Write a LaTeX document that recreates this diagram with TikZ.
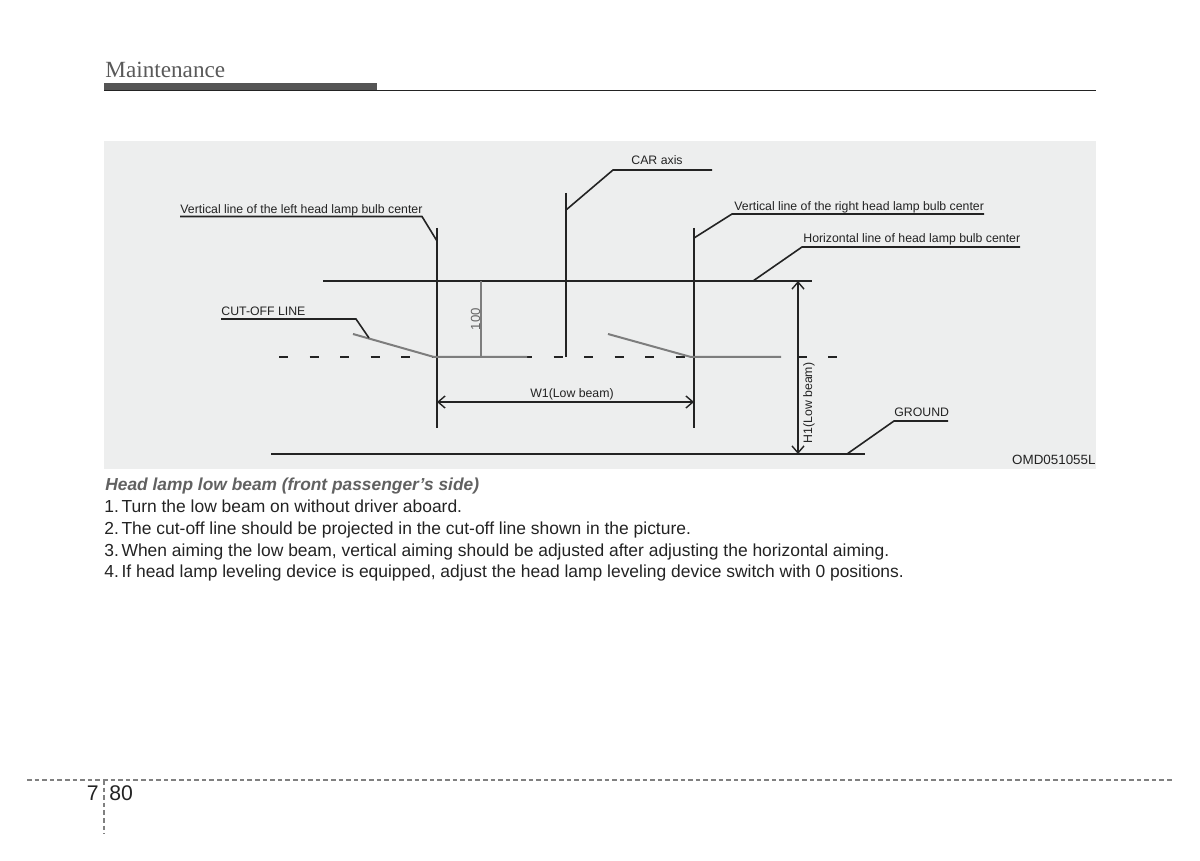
\documentclass[tikz,border=0pt]{standalone}
\usepackage{fontspec}
\setmainfont{Liberation Sans}
\newfontfamily\headfont{Liberation Serif}
\usepackage{tikz}
\usetikzlibrary{arrows.meta, positioning}
\definecolor{panelgray}{RGB}{237,238,238}
\definecolor{beamgray}{RGB}{125,125,125}
\definecolor{inkblack}{RGB}{35,35,35}
\definecolor{bargray}{RGB}{85,85,85}
\tikzset{
  axisline/.style={line width=0.75pt, inkblack},
  leaderline/.style={line width=0.8pt, inkblack},
  beamline/.style={line width=1pt, beamgray},
  dimline/.style={line width=0.7pt, inkblack, {Straight Barb[length=3.5pt,width=6pt]}-{Straight Barb[length=3.5pt,width=6pt]}},
  calloutlabel/.style={anchor=base west, inner sep=0pt, font=\fontsize{6.15}{7}\selectfont, text=inkblack},
  bodytext/.style={anchor=base west, inner sep=0pt, font=\fontsize{8.72}{10}\selectfont, text=inkblack},
  footline/.style={line width=0.55pt, black!50, dash pattern=on 2.3pt off 1.5pt},
}
\newcommand{\stepgap}{\hspace{0.15em}}

\begin{document}
\frenchspacing
\begin{tikzpicture}[x=0.5pt, y=-0.5pt]
\useasboundingbox (0,0) rectangle (1200,861);

% Page header
\node[anchor=base west, inner sep=0pt, font=\headfont\fontsize{11.6}{13}\selectfont, text=black!65] (header) at (105,78) {Maintenance};
\fill[bargray] (104,83) rectangle (377,91);
\coordinate (ruleL) at (104,91);
\coordinate (ruleR) at (1096,91);
\draw[line width=0.5pt, inkblack] (ruleL) -- (ruleR);

% Panel
\fill[panelgray] (104,141) rectangle (1096,469);

% Main lines
\coordinate (leftTop) at (437,228);
\coordinate (leftBot) at (437,428);
\coordinate (carTop) at (566,193);
\coordinate (carBot) at (566,357);
\coordinate (rightTop) at (694,228);
\coordinate (rightBot) at (694,428);
\coordinate (horizL) at (323,281);
\coordinate (horizR) at (812,281);
\coordinate (groundL) at (271,454);
\coordinate (groundR) at (865,454);
\coordinate (dashL) at (279,357);
\coordinate (dashR) at (837,357);
\draw[axisline] (leftTop) -- (leftBot);
\draw[axisline] (carTop) -- (carBot);
\draw[axisline] (rightTop) -- (rightBot);
\draw[axisline] (horizL) -- (horizR);
\draw[axisline] (groundL) -- (groundR);
\draw[line width=0.7pt, inkblack, dash pattern=on 4.5pt off 10.75pt] (dashL) -- (dashR);

% Cut-off lines
\coordinate (cutLa) at (353,334);
\coordinate (cutLb) at (434,357);
\coordinate (cutLc) at (527,357);
\coordinate (cutRa) at (608,334);
\coordinate (cutRb) at (691,357);
\coordinate (cutRc) at (781,357);
\coordinate (hundredTop) at (481,281);
\coordinate (hundredBot) at (481,357);
\draw[beamline] (cutLa) -- (cutLb) -- (cutLc);
\draw[beamline] (cutRa) -- (cutRb) -- (cutRc);
\draw[beamline] (hundredTop) -- (hundredBot);
\node[font=\fontsize{6.6}{8}\selectfont, text=black!60, rotate=90, inner sep=0pt] (hundred) at (475.5,319) {100};

% Leaders and labels
\node[calloutlabel] (leftLabel) at (180,214) {Vertical line of the left head lamp bulb center};
\draw[leaderline] (180,216.5) -- (422,216.5) -- (437,241);
\node[calloutlabel] (carLabel) at (631,165) {CAR axis};
\draw[leaderline] (566,210) -- (613,170) -- (712,170);
\node[calloutlabel] (rightLabel) at (734,210.5) {Vertical line of the right head lamp bulb center};
\draw[leaderline] (694,238) -- (732,214) -- (984,214);
\node[calloutlabel] (horizLabel) at (803,243) {Horizontal line of head lamp bulb center};
\draw[leaderline] (753,281) -- (802,247) -- (1020,247);
\node[calloutlabel] (cutLabel) at (221,315.5) {CUT-OFF LINE};
\draw[leaderline] (221,319) -- (356,319) -- (369,338);
\node[calloutlabel] (groundLabel) at (894,416) {GROUND};
\draw[leaderline] (847,454) -- (894,421) -- (948,421);

% Dimensions
\coordinate (wL) at (437,402);
\coordinate (wR) at (694,402);
\coordinate (hT) at (798,281);
\coordinate (hB) at (798,454);
\draw[dimline] (wL) -- (wR);
\draw[dimline] (hT) -- (hB);
\node[calloutlabel, anchor=base] (wLabel) at (572,398) {W1(Low beam)};
\node[calloutlabel, anchor=base, rotate=90] (hLabel) at (812,403) {H1(Low beam)};
\node[anchor=base east, inner sep=0pt, font=\fontsize{6.7}{8}\selectfont, text=inkblack] (codeLabel) at (1096,465) {OMD051055L};

% Text under the panel
\node[bodytext, font=\bfseries\itshape\fontsize{8.68}{10}\selectfont, text=black!62] (caption) at (105,490) {Head lamp low beam (front passenger’s side)};
\node[bodytext] (stepA) at (104,512) {1.\stepgap Turn the low beam on without driver aboard.};
\node[bodytext] (stepB) at (104,534) {2.\stepgap The cut-off line should be projected in the cut-off line shown in the picture.};
\node[bodytext] (stepC) at (104,556) {3.\stepgap When aiming the low beam, vertical aiming should be adjusted after adjusting the horizontal aiming.};
\node[bodytext] (stepD) at (104,577) {4.\stepgap If head lamp leveling device is equipped, adjust the head lamp leveling device switch with 0 positions.};

% Page footer
\coordinate (footL) at (27,780);
\coordinate (footR) at (1173,780);
\coordinate (footT) at (104,780);
\coordinate (footB) at (104,834);
\draw[footline] (footL) -- (footR);
\draw[footline] (footT) -- (footB);
\node[bodytext, font=\fontsize{10.6}{12}\selectfont, anchor=base east] (chapter) at (99,800) {7};
\node[bodytext, font=\fontsize{10.6}{12}\selectfont] (pageno) at (109,800) {80};

\end{tikzpicture}
\end{document}
